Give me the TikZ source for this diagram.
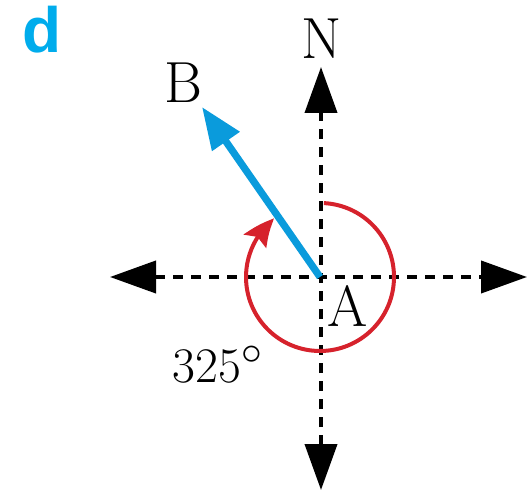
\documentclass[tikz,border=0pt]{standalone}
\usepackage{fontspec}
\newfontfamily\labfont{Liberation Sans}
\usetikzlibrary{arrows.meta,bending}
\definecolor{dblue}{RGB}{0,172,236}
\definecolor{vblue}{RGB}{10,155,220}
\definecolor{ared}{RGB}{214,34,44}
\tikzset{
  axis/.style={line width=2pt, dash pattern=on 5pt off 4pt,
    {Triangle[length=23pt,width=16pt]}-{Triangle[length=23pt,width=16pt]}},
  lbl/.style={inner sep=0pt, font=\fontsize{29}{34}\selectfont},
  bear/.style={vblue, line width=3.6pt, -{Triangle[length=21pt,width=16pt]}},
  turn/.style={ared, line width=2pt, -{Stealth[length=15pt,width=13pt,inset=2.5pt,bend]}}
}
\begin{document}
\begin{tikzpicture}[x=0.5pt,y=0.5pt]
\useasboundingbox (0,0) rectangle (528,497);
\coordinate (O) at (320,220);
\coordinate (Ntip) at (321,430);
\coordinate (Stip) at (321,7);
\coordinate (Wtip) at (110,220);
\coordinate (Etip) at (527,220);
\coordinate (Btip) at (202,390);
\node[lbl, text=dblue, font=\labfont\bfseries\fontsize{32}{36}\selectfont] (d) at (42,467) {d};
\node[lbl] (N) at (322,458) {N};
\node[lbl] (B) at (183,414) {B};
\node[lbl] (A) at (348,191) {A};
\node[lbl] (ang) at (218,133) {$325^\circ$};
\draw[axis] (Stip) -- (Ntip);
\draw[axis] (Wtip) -- (Etip);
\draw[turn] ([shift={(87:74)}]O) arc[start angle=87, end angle=-232, radius=37pt];
\draw[bear] (O) -- (Btip);
\end{tikzpicture}
\end{document}
